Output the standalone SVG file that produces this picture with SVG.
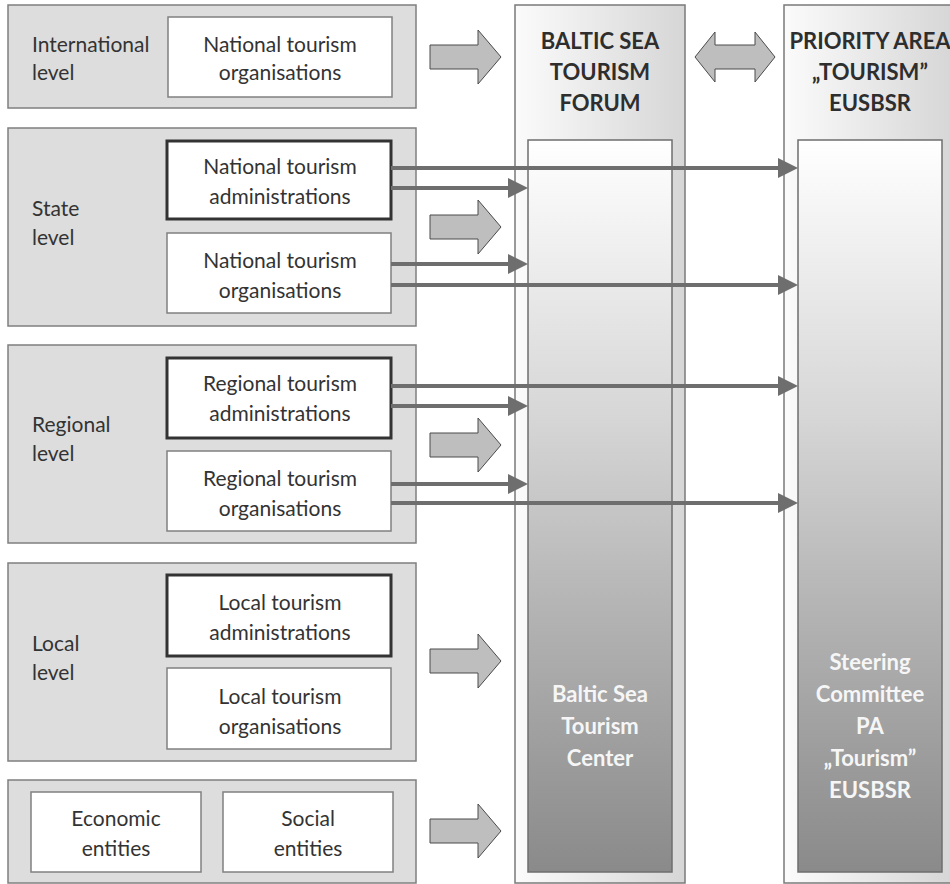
<svg xmlns="http://www.w3.org/2000/svg" width="950" height="884" viewBox="0 0 950 884">
<defs>
<linearGradient id="colg" x1="0" y1="0" x2="1" y2="0">
<stop offset="0" stop-color="#fbfbfb"/><stop offset="1" stop-color="#d6d6d6"/>
</linearGradient>
<linearGradient id="ing" x1="0" y1="0" x2="0" y2="1">
<stop offset="0" stop-color="#ffffff"/><stop offset="0.38" stop-color="#d6d6d6"/><stop offset="0.63" stop-color="#b5b5b5"/><stop offset="1" stop-color="#8a8a8a"/>
</linearGradient>
<marker id="ah" viewBox="0 0 20 20" markerWidth="20" markerHeight="20" markerUnits="userSpaceOnUse" refX="4" refY="10" orient="auto">
<path d="M0,0 L20,10 L0,20 z" fill="#6e6e6e"/>
</marker>
<path id="barrow" d="M0,-12 H48 V-27 L71,0 L48,27 V12 H0 z"/>
</defs>
<style>
.lvl{fill:#dddddd;stroke:#7f7f7f;stroke-width:1.5}
.box{fill:#ffffff;stroke:#808080;stroke-width:1.5}
.bold{fill:#ffffff;stroke:#333333;stroke-width:3}
.col{fill:url(#colg);stroke:#7a7a7a;stroke-width:1.5}
.inner{fill:url(#ing);stroke:#6e6e6e;stroke-width:1.5}
.ba{fill:#bdbebd;stroke:#4a4a4a;stroke-width:1}
.t{font-family:Lato,"Open Sans","Liberation Sans",sans-serif;font-size:21px;fill:#333333}
.c{text-anchor:middle}
.h{font-family:Lato,"Open Sans","Liberation Sans",sans-serif;font-size:22px;font-weight:bold;fill:#2e2e2e;text-anchor:middle}
.w{font-family:Lato,"Open Sans","Liberation Sans",sans-serif;font-size:22px;font-weight:bold;fill:#f6f6f6;text-anchor:middle}
.cn{stroke:#6e6e6e;stroke-width:4;fill:none;marker-end:url(#ah)}
</style>

<g id="col-bstf">
<rect class="col" x="515" y="5" width="170" height="878"/>
<rect class="inner" x="528" y="140" width="144" height="732"/>
<text class="h" x="600" y="49">BALTIC SEA</text>
<text class="h" x="600" y="80">TOURISM</text>
<text class="h" x="600" y="111">FORUM</text>
<text class="w" x="600" y="702">Baltic Sea</text>
<text class="w" x="600" y="734">Tourism</text>
<text class="w" x="600" y="766">Center</text>
</g>

<g id="col-pa">
<rect class="col" x="784" y="5" width="170" height="878"/>
<rect class="inner" x="798" y="140" width="144" height="732"/>
<text class="h" x="870" y="49">PRIORITY AREA</text>
<text class="h" x="870" y="80">„TOURISM”</text>
<text class="h" x="870" y="111">EUSBSR</text>
<text class="w" x="870" y="670">Steering</text>
<text class="w" x="870" y="702">Committee</text>
<text class="w" x="870" y="734">PA</text>
<text class="w" x="870" y="766">„Tourism”</text>
<text class="w" x="870" y="798">EUSBSR</text>
</g>

<g id="intl">
<rect class="lvl" x="8" y="5" width="408" height="103"/>
<text class="t" x="32" y="52">International</text>
<text class="t" x="32" y="80">level</text>
<rect class="box" x="168" y="17" width="224" height="80"/>
<text class="t c" x="280" y="52">National tourism</text>
<text class="t c" x="280" y="80">organisations</text>
</g>

<g id="state">
<rect class="lvl" x="8" y="128" width="408" height="198"/>
<text class="t" x="32" y="216">State</text>
<text class="t" x="32" y="245">level</text>
<rect class="bold" x="167" y="141" width="224" height="78"/>
<text class="t c" x="280" y="174">National tourism</text>
<text class="t c" x="280" y="204">administrations</text>
<rect class="box" x="167" y="233" width="224" height="80"/>
<text class="t c" x="280" y="268">National tourism</text>
<text class="t c" x="280" y="298">organisations</text>
</g>

<g id="regional">
<rect class="lvl" x="8" y="345" width="408" height="198"/>
<text class="t" x="32" y="432">Regional</text>
<text class="t" x="32" y="461">level</text>
<rect class="bold" x="167" y="358" width="224" height="80"/>
<text class="t c" x="280" y="391">Regional tourism</text>
<text class="t c" x="280" y="421">administrations</text>
<rect class="box" x="167" y="451" width="224" height="80"/>
<text class="t c" x="280" y="486">Regional tourism</text>
<text class="t c" x="280" y="516">organisations</text>
</g>

<g id="local">
<rect class="lvl" x="8" y="563" width="408" height="198"/>
<text class="t" x="32" y="651">Local</text>
<text class="t" x="32" y="680">level</text>
<rect class="bold" x="167" y="575" width="224" height="81"/>
<text class="t c" x="280" y="610">Local tourism</text>
<text class="t c" x="280" y="640">administrations</text>
<rect class="box" x="167" y="668" width="224" height="81"/>
<text class="t c" x="280" y="704">Local tourism</text>
<text class="t c" x="280" y="734">organisations</text>
</g>

<g id="entities">
<rect class="lvl" x="8" y="780" width="408" height="103"/>
<rect class="box" x="31" y="792" width="170" height="80"/>
<text class="t c" x="116" y="826">Economic</text>
<text class="t c" x="116" y="856">entities</text>
<rect class="box" x="223" y="792" width="170" height="80"/>
<text class="t c" x="308" y="826">Social</text>
<text class="t c" x="308" y="856">entities</text>
</g>

<g id="connectors">
<use href="#barrow" class="ba" x="430" y="57"/>
<use href="#barrow" class="ba" x="430" y="227"/>
<use href="#barrow" class="ba" x="430" y="445"/>
<use href="#barrow" class="ba" x="430" y="661"/>
<use href="#barrow" class="ba" x="430" y="831"/>
<path class="ba" d="M695,57 L715,32 V45 H755 V32 L775,57 L755,82 V69 H715 V82 z"/>
<line class="cn" x1="391" y1="168" x2="782" y2="168"/>
<line class="cn" x1="391" y1="188" x2="512" y2="188"/>
<line class="cn" x1="391" y1="264" x2="512" y2="264"/>
<line class="cn" x1="391" y1="285" x2="782" y2="285"/>
<line class="cn" x1="391" y1="386" x2="782" y2="386"/>
<line class="cn" x1="391" y1="406" x2="512" y2="406"/>
<line class="cn" x1="391" y1="484" x2="512" y2="484"/>
<line class="cn" x1="391" y1="503" x2="782" y2="503"/>
</g>
</svg>
